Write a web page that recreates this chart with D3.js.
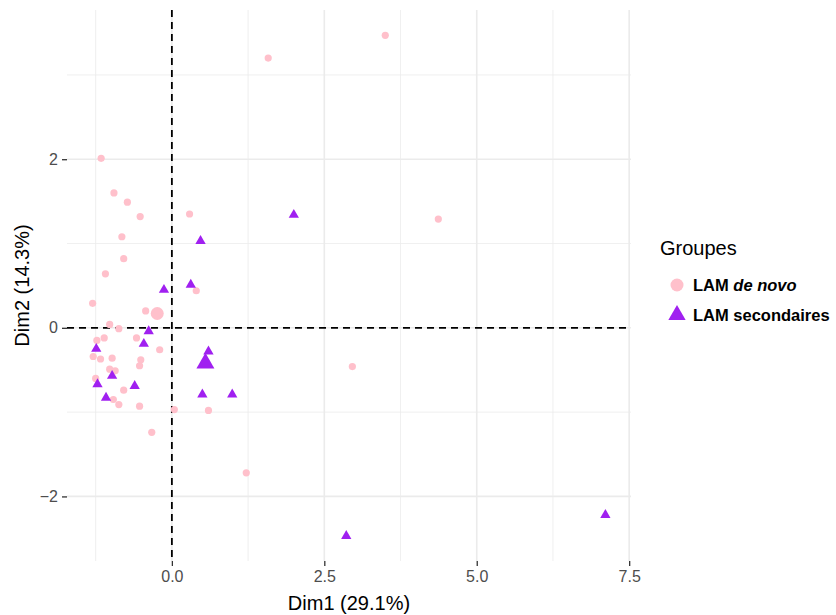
<!DOCTYPE html>
<html><head><meta charset="utf-8">
<script src="https://cdn.jsdelivr.net/npm/d3@7"></script>
<style>body{margin:0;background:#fff;}svg{display:block;font-family:"Liberation Sans",Arial,Helvetica,sans-serif;}</style>
</head><body>
<svg id="chart" width="836" height="615"></svg>
<script>
// Individuals: LAM de novo (pink circles)
const denovoX = [3.50,1.58,-1.16,-0.95,-0.73,-0.52,0.29,4.37,-0.82,-0.79,-1.09,0.40,-1.30,-0.43,-1.02,-0.87,-1.23,-1.11,-0.58,-0.20,-1.29,-1.17,-0.98,-0.51,-0.53,-1.02,-0.93,2.96,-1.25,-0.79,-0.96,-0.87,-0.53,0.04,0.60,-0.33,1.22];
const denovoY = [3.47,3.20,2.01,1.60,1.49,1.32,1.35,1.29,1.08,0.82,0.64,0.44,0.29,0.20,0.04,-0.01,-0.15,-0.12,-0.12,-0.26,-0.34,-0.37,-0.36,-0.38,-0.45,-0.49,-0.51,-0.46,-0.60,-0.74,-0.85,-0.91,-0.93,-0.97,-0.98,-1.24,-1.72];
// Individuals: LAM secondaires (purple triangles)
const secX = [2.00,0.47,0.31,-0.13,-0.38,-0.46,-1.24,0.60,-0.98,-1.22,-0.61,0.50,0.99,-1.08,2.86,7.11];
const secY = [1.34,1.03,0.51,0.45,-0.04,-0.19,-0.25,-0.28,-0.57,-0.67,-0.69,-0.79,-0.79,-0.83,-2.47,-2.22];
// Group centroids (larger marks)
const groups = ["LAM de novo","LAM secondaires"];
const centroidX = [-0.24, 0.55];
const centroidY = [0.17, -0.42];
// Axes
const xTicks = [0,2.5,5,7.5];
const xMinor = [-1.25,1.25,3.75,6.25];
const yTicks = [-2,0,2];
const yMinor = [-1,1,3];
const xTitle = "Dim1 (29.1%)";
const yTitle = "Dim2 (14.3%)";
const legendTitle = "Groupes";

const colors = ["#FFC0CB","#A020F0"];
const svg = d3.select("#chart");
const L=67,R=631,T=10,B=561;
const x = d3.scaleLinear().domain([-1.72,7.53]).range([L,R]);
const y = d3.scaleLinear().domain([-2.766,3.77]).range([B,T]);

const g = svg.append("g");
// grid
g.selectAll(".vmin").data(xMinor).enter().append("line")
 .attr("x1",d=>x(d)).attr("x2",d=>x(d)).attr("y1",T).attr("y2",B)
 .attr("stroke","#EBEBEB").attr("stroke-width",0.8);
g.selectAll(".hmin").data(yMinor).enter().append("line")
 .attr("y1",d=>y(d)).attr("y2",d=>y(d)).attr("x1",L).attr("x2",R)
 .attr("stroke","#EBEBEB").attr("stroke-width",0.8);
g.selectAll(".vmaj").data(xTicks).enter().append("line")
 .attr("x1",d=>x(d)).attr("x2",d=>x(d)).attr("y1",T).attr("y2",B)
 .attr("stroke","#EBEBEB").attr("stroke-width",1.6);
g.selectAll(".hmaj").data(yTicks).enter().append("line")
 .attr("y1",d=>y(d)).attr("y2",d=>y(d)).attr("x1",L).attr("x2",R)
 .attr("stroke","#EBEBEB").attr("stroke-width",1.6);

// axes
const xa = svg.append("g").attr("transform",`translate(0,${B})`)
 .call(d3.axisBottom(x).tickValues(xTicks).tickFormat(d3.format(".1f")).tickSize(5).tickPadding(5));
const ya = svg.append("g").attr("transform",`translate(${L},0)`)
 .call(d3.axisLeft(y).tickValues(yTicks).tickFormat(d3.format("d")).tickSize(5).tickPadding(4));
[xa,ya].forEach(a=>{
  a.select(".domain").remove();
  a.selectAll("line").attr("stroke","#333333").attr("stroke-width",1.3);
  a.selectAll("text").attr("fill","#4D4D4D").style("font-size","16px").style("font-family","Liberation Sans, Arial, sans-serif");
});

// dashed reference lines
svg.append("line").attr("x1",L).attr("x2",R).attr("y1",y(0)).attr("y2",y(0))
 .attr("stroke","#000").attr("stroke-width",1.8).attr("stroke-dasharray","7,5");
svg.append("line").attr("x1",x(0)).attr("x2",x(0)).attr("y1",T).attr("y2",B)
 .attr("stroke","#000").attr("stroke-width",1.8).attr("stroke-dasharray","7,5");

// points
const dn = denovoX.map((v,i)=>({x:v,y:denovoY[i]}));
const sc = secX.map((v,i)=>({x:v,y:secY[i]}));
svg.append("g").selectAll("circle").data(dn).enter().append("circle")
 .attr("cx",d=>x(d.x)).attr("cy",d=>y(d.y)).attr("r",3.6).attr("fill",colors[0]);
const triSmall = d3.symbol().type(d3.symbolTriangle).size(46);
const triBig = d3.symbol().type(d3.symbolTriangle).size(140);
svg.append("g").selectAll("path").data(sc).enter().append("path")
 .attr("d",triSmall).attr("transform",d=>`translate(${x(d.x)},${y(d.y)})`).attr("fill",colors[1]);
// centroids
svg.append("circle").attr("cx",x(centroidX[0])).attr("cy",y(centroidY[0])).attr("r",6.5).attr("fill",colors[0]);
svg.append("path").attr("d",triBig).attr("transform",`translate(${x(centroidX[1])},${y(centroidY[1])})`).attr("fill",colors[1]);

// axis titles
svg.append("text").attr("x",(L+R)/2).attr("y",610).attr("text-anchor","middle")
 .style("font-size","20px").attr("fill","#000").text(xTitle);
svg.append("text").attr("transform",`translate(29,${(T+B)/2}) rotate(-90)`).attr("text-anchor","middle")
 .style("font-size","20px").attr("fill","#000").text(yTitle);

// legend
svg.append("text").attr("x",660).attr("y",255).style("font-size","20px").attr("fill","#000").text(legendTitle);
svg.append("circle").attr("cx",677).attr("cy",285).attr("r",6.5).attr("fill",colors[0]);
svg.append("path").attr("d",d3.symbol().type(d3.symbolTriangle).size(130)).attr("transform","translate(677,315)").attr("fill",colors[1]);
const t1 = svg.append("text").attr("x",693).attr("y",291).style("font-size","16.5px").style("font-weight","bold").attr("fill","#000");
t1.append("tspan").text("LAM ");
t1.append("tspan").style("font-style","italic").text("de novo");
svg.append("text").attr("x",693).attr("y",321).style("font-size","16.5px").style("font-weight","bold").attr("fill","#000").text(groups[1]);
</script>
</body></html>
